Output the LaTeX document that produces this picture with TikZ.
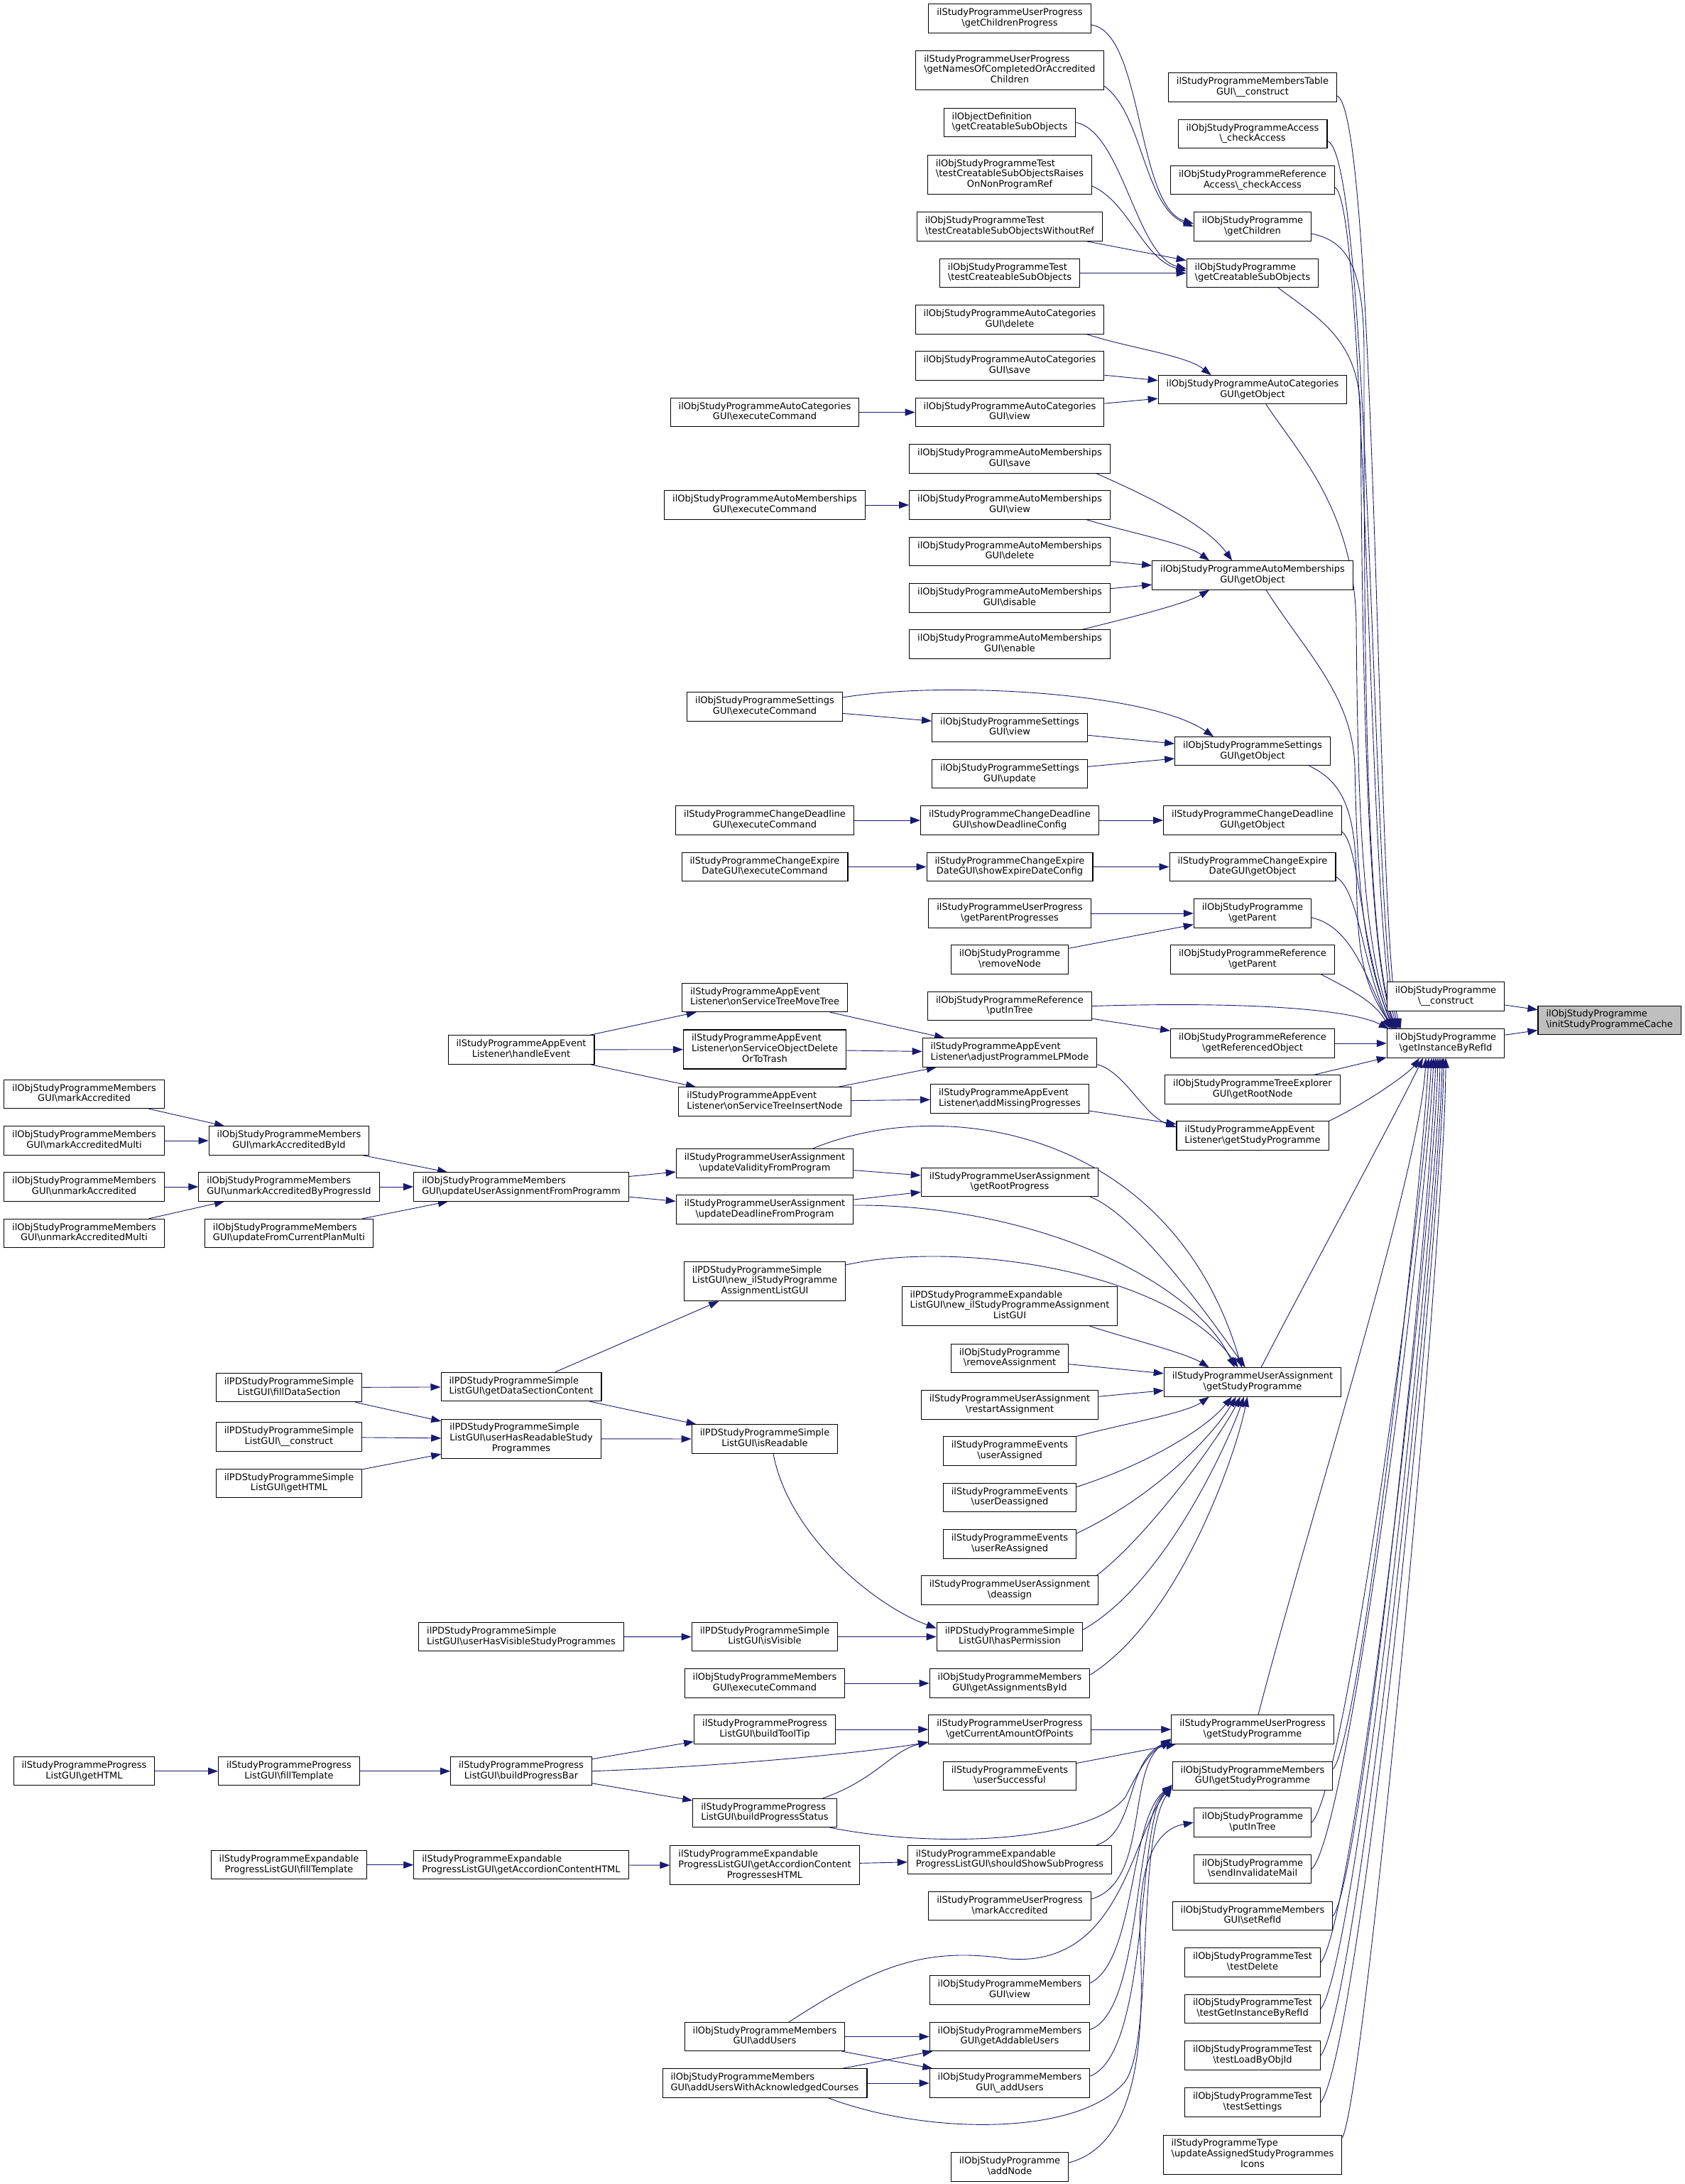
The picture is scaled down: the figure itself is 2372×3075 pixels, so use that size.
\documentclass[tikz,border=0pt]{standalone}
\usepackage{fontspec}
\setmainfont{DejaVu Sans}
\usetikzlibrary{arrows.meta,calc,backgrounds}
\definecolor{edgec}{HTML}{191970}
\definecolor{rootc}{HTML}{BFBFBF}
\newcommand{\bsx}{\textbackslash}
\newcommand{\twol}[2]{\begin{tabular}{@{}l@{}}#1\\\multicolumn{1}{@{}c@{}}{#2}\end{tabular}}
\newcommand{\threel}[3]{\begin{tabular}{@{}l@{}}#1\\#2\\\multicolumn{1}{@{}c@{}}{#3}\end{tabular}}
\tikzset{
  nd/.style={draw=black, line width=1.1pt, fill=white, inner xsep=11.5pt, inner ysep=5.3pt,
    font=\fontsize{13}{14.8}\selectfont, text=black},
  rootnd/.style={nd, fill=rootc},
  edg/.style={draw=edgec, line width=0.9pt, -{Triangle[length=14pt,width=10pt]}},
}
\begin{document}
\begin{tikzpicture}[x=1pt,y=-1pt]
\useasboundingbox (0,0) rectangle (2372,3075);
% root and level 1
\node[rootnd] (R) at (2266.7,1436.3) {\twol{ilObjStudyProgramme}{\bsx{}initStudyProgrammeCache}};
\node[nd] (D1) at (2036,1403) {\twol{ilObjStudyProgramme}{\bsx\_\_construct}};
\node[nd] (D2) at (2036,1469) {\twol{ilObjStudyProgramme}{\bsx{}getInstanceByRefId}};
% B column
\node[nd] (B1) at (1764,123) {\twol{ilStudyProgrammeMembersTable}{GUI\bsx\_\_construct}};
\node[nd] (B2) at (1764,188.5) {\twol{ilObjStudyProgrammeAccess}{\bsx\_checkAccess}};
\node[nd] (B3) at (1764,253.7) {\twol{ilObjStudyProgrammeReference}{Access\bsx\_checkAccess}};
\node[nd] (B4) at (1764,319) {\twol{ilObjStudyProgramme}{\bsx{}getChildren}};
\node[nd] (B5) at (1764,384.5) {\twol{ilObjStudyProgramme}{\bsx{}getCreatableSubObjects}};
\node[nd] (B6) at (1764,548.8) {\twol{ilObjStudyProgrammeAutoCategories}{GUI\bsx{}getObject}};
\node[nd] (B7) at (1764,810) {\twol{ilObjStudyProgrammeAutoMemberships}{GUI\bsx{}getObject}};
\node[nd] (B8) at (1764,1057.8) {\twol{ilObjStudyProgrammeSettings}{GUI\bsx{}getObject}};
\node[nd] (B9) at (1764,1155) {\twol{ilStudyProgrammeChangeDeadline}{GUI\bsx{}getObject}};
\node[nd] (B10) at (1764,1220.5) {\twol{ilStudyProgrammeChangeExpire}{DateGUI\bsx{}getObject}};
\node[nd] (B11) at (1764,1286) {\twol{ilObjStudyProgramme}{\bsx{}getParent}};
\node[nd] (B12) at (1764,1351) {\twol{ilObjStudyProgrammeReference}{\bsx{}getParent}};
\node[nd] (B13) at (1764,1469) {\twol{ilObjStudyProgrammeReference}{\bsx{}getReferencedObject}};
\node[nd] (B14) at (1764,1534) {\twol{ilObjStudyProgrammeTreeExplorer}{GUI\bsx{}getRootNode}};
\node[nd] (B15) at (1764,1599) {\twol{ilStudyProgrammeAppEvent}{Listener\bsx{}getStudyProgramme}};
\node[nd] (B16) at (1764,1946) {\twol{ilStudyProgrammeUserAssignment}{\bsx{}getStudyProgramme}};
\node[nd] (B17) at (1764,2435) {\twol{ilStudyProgrammeUserProgress}{\bsx{}getStudyProgramme}};
\node[nd] (B18) at (1764,2500.5) {\twol{ilObjStudyProgrammeMembers}{GUI\bsx{}getStudyProgramme}};
\node[nd] (B19) at (1764,2566) {\twol{ilObjStudyProgramme}{\bsx{}putInTree}};
\node[nd] (B20) at (1764,2631.6) {\twol{ilObjStudyProgramme}{\bsx{}sendInvalidateMail}};
\node[nd] (B21) at (1764,2697.6) {\twol{ilObjStudyProgrammeMembers}{GUI\bsx{}setRefId}};
\node[nd] (B22) at (1764,2763) {\twol{ilObjStudyProgrammeTest}{\bsx{}testDelete}};
\node[nd] (B23) at (1764,2828.4) {\twol{ilObjStudyProgrammeTest}{\bsx{}testGetInstanceByRefId}};
\node[nd] (B24) at (1764,2894) {\twol{ilObjStudyProgrammeTest}{\bsx{}testLoadByObjId}};
\node[nd] (B25) at (1764,2960) {\twol{ilObjStudyProgrammeTest}{\bsx{}testSettings}};
\node[nd] (B26) at (1764,3033.7) {\threel{ilStudyProgrammeType}{\bsx{}updateAssignedStudyProgrammes}{Icons}};
% A column
\node[nd] (A1) at (1422,26) {\twol{ilStudyProgrammeUserProgress}{\bsx{}getChildrenProgress}};
\node[nd] (A2) at (1422,99) {\threel{ilStudyProgrammeUserProgress}{\bsx{}getNamesOfCompletedOrAccredited}{Children}};
\node[nd] (A3) at (1422,172.5) {\twol{ilObjectDefinition}{\bsx{}getCreatableSubObjects}};
\node[nd] (A4) at (1422,246) {\threel{ilObjStudyProgrammeTest}{\bsx{}testCreatableSubObjectsRaises}{OnNonProgramRef}};
\node[nd] (A5) at (1422,319) {\twol{ilObjStudyProgrammeTest}{\bsx{}testCreatableSubObjectsWithoutRef}};
\node[nd] (A6) at (1422,384.5) {\twol{ilObjStudyProgrammeTest}{\bsx{}testCreateableSubObjects}};
\node[nd] (A7) at (1422,450) {\twol{ilObjStudyProgrammeAutoCategories}{GUI\bsx{}delete}};
\node[nd] (A8) at (1422,515) {\twol{ilObjStudyProgrammeAutoCategories}{GUI\bsx{}save}};
\node[nd] (A9) at (1422,580.5) {\twol{ilObjStudyProgrammeAutoCategories}{GUI\bsx{}view}};
\node[nd] (A10) at (1422,646) {\twol{ilObjStudyProgrammeAutoMemberships}{GUI\bsx{}save}};
\node[nd] (A11) at (1422,711) {\twol{ilObjStudyProgrammeAutoMemberships}{GUI\bsx{}view}};
\node[nd] (A12) at (1422,776.5) {\twol{ilObjStudyProgrammeAutoMemberships}{GUI\bsx{}delete}};
\node[nd] (A13) at (1422,842) {\twol{ilObjStudyProgrammeAutoMemberships}{GUI\bsx{}disable}};
\node[nd] (A14) at (1422,907) {\twol{ilObjStudyProgrammeAutoMemberships}{GUI\bsx{}enable}};
\node[nd] (A15) at (1422,1024.5) {\twol{ilObjStudyProgrammeSettings}{GUI\bsx{}view}};
\node[nd] (A16) at (1422,1089.7) {\twol{ilObjStudyProgrammeSettings}{GUI\bsx{}update}};
\node[nd] (A17) at (1422,1155) {\twol{ilStudyProgrammeChangeDeadline}{GUI\bsx{}showDeadlineConfig}};
\node[nd] (A18) at (1422,1220.5) {\twol{ilStudyProgrammeChangeExpire}{DateGUI\bsx{}showExpireDateConfig}};
\node[nd] (A19) at (1422,1286) {\twol{ilStudyProgrammeUserProgress}{\bsx{}getParentProgresses}};
\node[nd] (A20) at (1422,1351) {\twol{ilObjStudyProgramme}{\bsx{}removeNode}};
\node[nd] (A21) at (1422,1416.5) {\twol{ilObjStudyProgrammeReference}{\bsx{}putInTree}};
\node[nd] (A22) at (1422,1482) {\twol{ilStudyProgrammeAppEvent}{Listener\bsx{}adjustProgrammeLPMode}};
\node[nd] (A23) at (1422,1547) {\twol{ilStudyProgrammeAppEvent}{Listener\bsx{}addMissingProgresses}};
\node[nd] (A24) at (1422,1664.5) {\twol{ilStudyProgrammeUserAssignment}{\bsx{}getRootProgress}};
\node[nd] (A25) at (1422,1839) {\threel{ilPDStudyProgrammeExpandable}{ListGUI\bsx{}new\_ilStudyProgrammeAssignment}{ListGUI}};
\node[nd] (A26) at (1422,1912.5) {\twol{ilObjStudyProgramme}{\bsx{}removeAssignment}};
\node[nd] (A27) at (1422,1978) {\twol{ilStudyProgrammeUserAssignment}{\bsx{}restartAssignment}};
\node[nd] (A28) at (1422,2043) {\twol{ilStudyProgrammeEvents}{\bsx{}userAssigned}};
\node[nd] (A29) at (1422,2108.5) {\twol{ilStudyProgrammeEvents}{\bsx{}userDeassigned}};
\node[nd] (A30) at (1422,2174) {\twol{ilStudyProgrammeEvents}{\bsx{}userReAssigned}};
\node[nd] (A31) at (1422,2239) {\twol{ilStudyProgrammeUserAssignment}{\bsx{}deassign}};
\node[nd] (A32) at (1422,2304.5) {\twol{ilPDStudyProgrammeSimple}{ListGUI\bsx{}hasPermission}};
\node[nd] (A33) at (1422,2370) {\twol{ilObjStudyProgrammeMembers}{GUI\bsx{}getAssignmentsById}};
\node[nd] (A34) at (1422,2435) {\twol{ilStudyProgrammeUserProgress}{\bsx{}getCurrentAmountOfPoints}};
\node[nd] (A35) at (1422,2500.5) {\twol{ilStudyProgrammeEvents}{\bsx{}userSuccessful}};
\node[nd] (A36) at (1422,2618.5) {\twol{ilStudyProgrammeExpandable}{ProgressListGUI\bsx{}shouldShowSubProgress}};
\node[nd] (A37) at (1422,2683.8) {\twol{ilStudyProgrammeUserProgress}{\bsx{}markAccredited}};
\node[nd] (A38) at (1422,2802) {\twol{ilObjStudyProgrammeMembers}{GUI\bsx{}view}};
\node[nd] (A39) at (1422,2867.5) {\twol{ilObjStudyProgrammeMembers}{GUI\bsx{}getAddableUsers}};
\node[nd] (A40) at (1422,2933) {\twol{ilObjStudyProgrammeMembers}{GUI\bsx\_addUsers}};
\node[nd] (A41) at (1422,3051) {\twol{ilObjStudyProgramme}{\bsx{}addNode}};
% C column
\node[nd] (C1) at (1077,580.5) {\twol{ilObjStudyProgrammeAutoCategories}{GUI\bsx{}executeCommand}};
\node[nd] (C2) at (1077,711) {\twol{ilObjStudyProgrammeAutoMemberships}{GUI\bsx{}executeCommand}};
\node[nd] (C3) at (1077,995) {\twol{ilObjStudyProgrammeSettings}{GUI\bsx{}executeCommand}};
\node[nd] (C4) at (1077,1155) {\twol{ilStudyProgrammeChangeDeadline}{GUI\bsx{}executeCommand}};
\node[nd] (C5) at (1077,1220.5) {\twol{ilStudyProgrammeChangeExpire}{DateGUI\bsx{}executeCommand}};
\node[nd] (C6) at (1077,1404.5) {\twol{ilStudyProgrammeAppEvent}{Listener\bsx{}onServiceTreeMoveTree}};
\node[nd] (C7) at (1077,1477.5) {\threel{ilStudyProgrammeAppEvent}{Listener\bsx{}onServiceObjectDelete}{OrToTrash}};
\node[nd] (C8) at (1077,1551) {\twol{ilStudyProgrammeAppEvent}{Listener\bsx{}onServiceTreeInsertNode}};
\node[nd] (C9) at (1077,1638) {\twol{ilStudyProgrammeUserAssignment}{\bsx{}updateValidityFromProgram}};
\node[nd] (C10) at (1077,1703) {\twol{ilStudyProgrammeUserAssignment}{\bsx{}updateDeadlineFromProgram}};
\node[nd] (C11) at (1077,1804) {\threel{ilPDStudyProgrammeSimple}{ListGUI\bsx{}new\_ilStudyProgramme}{AssignmentListGUI}};
\node[nd] (C12) at (1077,2026) {\twol{ilPDStudyProgrammeSimple}{ListGUI\bsx{}isReadable}};
\node[nd] (C13) at (1077,2304.5) {\twol{ilPDStudyProgrammeSimple}{ListGUI\bsx{}isVisible}};
\node[nd] (C14) at (1077,2370) {\twol{ilObjStudyProgrammeMembers}{GUI\bsx{}executeCommand}};
\node[nd] (C15) at (1077,2435) {\twol{ilStudyProgrammeProgress}{ListGUI\bsx{}buildToolTip}};
\node[nd] (C16) at (1077,2552.5) {\twol{ilStudyProgrammeProgress}{ListGUI\bsx{}buildProgressStatus}};
\node[nd] (C17) at (1077,2626.4) {\threel{ilStudyProgrammeExpandable}{ProgressListGUI\bsx{}getAccordionContent}{ProgressesHTML}};
\node[nd] (C18) at (1077,2867.5) {\twol{ilObjStudyProgrammeMembers}{GUI\bsx{}addUsers}};
\node[nd] (C19) at (1077,2933) {\twol{ilObjStudyProgrammeMembers}{GUI\bsx{}addUsersWithAcknowledgedCourses}};
% E column
\node[nd] (E1) at (734,1478) {\twol{ilStudyProgrammeAppEvent}{Listener\bsx{}handleEvent}};
\node[nd] (E2) at (734,1671) {\twol{ilObjStudyProgrammeMembers}{GUI\bsx{}updateUserAssignmentFromProgramm}};
\node[nd] (E3) at (734,1952.5) {\twol{ilPDStudyProgrammeSimple}{ListGUI\bsx{}getDataSectionContent}};
\node[nd] (E4) at (734,2025.8) {\threel{ilPDStudyProgrammeSimple}{ListGUI\bsx{}userHasReadableStudy}{Programmes}};
\node[nd] (E5) at (734,2304.7) {\twol{ilPDStudyProgrammeSimple}{ListGUI\bsx{}userHasVisibleStudyProgrammes}};
\node[nd] (E6) at (734,2493.7) {\twol{ilStudyProgrammeProgress}{ListGUI\bsx{}buildProgressBar}};
\node[nd] (E7) at (734,2625.7) {\twol{ilStudyProgrammeExpandable}{ProgressListGUI\bsx{}getAccordionContentHTML}};
% F column
\node[nd] (F1) at (407,1606) {\twol{ilObjStudyProgrammeMembers}{GUI\bsx{}markAccreditedById}};
\node[nd] (F2) at (407,1671) {\twol{ilObjStudyProgrammeMembers}{GUI\bsx{}unmarkAccreditedByProgressId}};
\node[nd] (F3) at (407,1736.5) {\twol{ilObjStudyProgrammeMembers}{GUI\bsx{}updateFromCurrentPlanMulti}};
\node[nd] (F4) at (407,1953.7) {\twol{ilPDStudyProgrammeSimple}{ListGUI\bsx{}fillDataSection}};
\node[nd] (F5) at (407,2023) {\twol{ilPDStudyProgrammeSimple}{ListGUI\bsx\_\_construct}};
\node[nd] (F6) at (407,2088.5) {\twol{ilPDStudyProgrammeSimple}{ListGUI\bsx{}getHTML}};
\node[nd] (G5) at (407,2493.7) {\twol{ilStudyProgrammeProgress}{ListGUI\bsx{}fillTemplate}};
\node[nd] (G6) at (407,2625.7) {\twol{ilStudyProgrammeExpandable}{ProgressListGUI\bsx{}fillTemplate}};
% G column
\node[nd] (G1) at (118.5,1540.5) {\twol{ilObjStudyProgrammeMembers}{GUI\bsx{}markAccredited}};
\node[nd] (G2) at (118.5,1606) {\twol{ilObjStudyProgrammeMembers}{GUI\bsx{}markAccreditedMulti}};
\node[nd] (G3) at (118.5,1671) {\twol{ilObjStudyProgrammeMembers}{GUI\bsx{}unmarkAccredited}};
\node[nd] (G4) at (118.5,1736.5) {\twol{ilObjStudyProgrammeMembers}{GUI\bsx{}unmarkAccreditedMulti}};
\node[nd] (H1) at (118.5,2493.7) {\twol{ilStudyProgrammeProgress}{ListGUI\bsx{}getHTML}};

\begin{pgfonlayer}{background}
\fill[white] (0,0) rectangle (2372,3075);
% straight edges
\foreach \a/\b in {D1/R,D2/R,B13/D2,B14/D2,A5/B5,A6/B5,A8/B6,A9/B6,C1/A9,A12/B7,A13/B7,C2/A11,
  C3/A15,A15/B8,A16/B8,C4/A17,A17/B9,C5/A18,A18/B10,A19/B11,A20/B11,A21/B13,C6/A22,C7/A22,C8/A22,
  C8/A23,A23/B15,E1/C6,E1/C7,E1/C8,C9/A24,C10/A24,E2/C9,E2/C10,E3/C11,A26/B16,A27/B16,E3/C12,
  E4/C12,F4/E3,F4/E4,F5/E4,F6/E4,E5/C13,C13/A32,C14/A33,C15/A34,A34/B17,A35/B17,E6/C15,E6/C16,
  H1/G5,G5/E6,G6/E7,E7/C17,C17/A36,C18/A39,C18/A40,C19/A39,C19/A40,G1/F1,G2/F1,G3/F2,G4/F2,
  F1/E2,F2/E2,F3/E2}
  {\draw[edg] (\a) -- (\b);}
% upper callers of getInstanceByRefId
\draw[edg] ($(B1.east)+(0,12)$) .. controls (1940,160) and (1938,1330) .. ($(D2.north west)+(20,0)$);
\draw[edg] ($(B2.east)+(0,10)$) .. controls (1932,220) and (1932,1330) .. ($(D2.north west)+(18,0)$);
\draw[edg] ($(B3.east)+(0,10)$) .. controls (1926,290) and (1927,1330) .. ($(D2.north west)+(16,0)$);
\draw[edg] ($(B4.east)+(0,10)$) .. controls (1900,340) and (1921,380) .. (1921,500) .. controls (1921,900) and (1922,1330) .. ($(D2.north west)+(14,0)$);
\draw[edg] ($(B5.south)+(36,0)$) .. controls (1860,450) and (1914,480) .. (1916,580) .. controls (1918,800) and (1920,1330) .. ($(D2.north west)+(13,0)$);
\draw[edg] ($(B6.south)+(19,0)$) .. controls (1830,640) and (1908,720) .. (1910,880) .. controls (1912,1100) and (1916,1330) .. ($(D2.north west)+(12,0)$);
\draw[edg] ($(B7.south)+(19,0)$) .. controls (1840,920) and (1905,980) .. (1908,1080) .. controls (1911,1200) and (1914,1340) .. ($(D2.north west)+(11,0)$);
\draw[edg] ($(B8.south east)+(-30,0)$) .. controls (1890,1100) and (1908,1140) .. (1910,1230) .. controls (1912,1330) and (1915,1380) .. ($(D2.north west)+(10,0)$);
\draw[edg] ($(B9.east)+(0,16)$) .. controls (1915,1190) and (1915,1330) .. ($(D2.north west)+(9,0)$);
\draw[edg] ($(B10.east)+(0,14)$) .. controls (1915,1255) and (1918,1360) .. ($(D2.north west)+(8,0)$);
\draw[edg] ($(B11.east)+(0,6)$) .. controls (1905,1305) and (1925,1380) .. ($(D2.north west)+(7,0)$);
\draw[edg] ($(B12.south east)+(-20,0)$) .. controls (1905,1395) and (1935,1410) .. ($(D2.north west)+(5,0)$);
\draw[edg] (A21.east) .. controls (1750,1410) and (1900,1420) .. ($(D2.north west)+(3,0)$);
% lower callers of getInstanceByRefId
\draw[edg] (B15.north east) .. controls (1930,1550) and (1985,1510) .. ($(D2.south)+(-37,0)$);
\draw[edg] ($(B16.north)+(12,0)$) .. controls (1830,1820) and (1960,1580) .. ($(D2.south)+(-32,0)$);
\draw[edg] ($(B17.north)+(8,0)$) .. controls (1840,2150) and (2000,1650) .. ($(D2.south)+(-28,0)$);
\draw[edg] ($(B18.east)+(0,-10)$) .. controls (1915,2450) and (2000,1700) .. ($(D2.south)+(-24,0)$);
\draw[edg] (B19.east) .. controls (1895,2520) and (2005,1700) .. ($(D2.south)+(-20,0)$);
\draw[edg] (B20.east) .. controls (1900,2580) and (2010,1700) .. ($(D2.south)+(-17,0)$);
\draw[edg] (B21.east) .. controls (1920,2640) and (2015,1700) .. ($(D2.south)+(-14,0)$);
\draw[edg] (B22.east) .. controls (1910,2700) and (2020,1700) .. ($(D2.south)+(-11,0)$);
\draw[edg] (B23.east) .. controls (1912,2760) and (2025,1700) .. ($(D2.south)+(-8,0)$);
\draw[edg] (B24.east) .. controls (1915,2820) and (2028,1700) .. ($(D2.south)+(-5,0)$);
\draw[edg] (B25.east) .. controls (1918,2880) and (2032,1700) .. ($(D2.south)+(-3,0)$);
\draw[edg] ($(B26.north east)+(0,4)$) .. controls (1922,2950) and (2035,1750) .. (D2.south);
% top group
\draw[edg] ($(A1.east)+(0,9)$) .. controls (1610,45) and (1600,290) .. ($(B4.west)+(0,-4)$);
\draw[edg] ($(A2.east)+(0,22)$) .. controls (1610,160) and (1610,290) .. (B4.west);
\draw[edg] (A3.east) .. controls (1580,185) and (1600,360) .. ($(B5.west)+(0,-6)$);
\draw[edg] ($(A4.east)+(0,16)$) .. controls (1590,285) and (1610,365) .. ($(B5.west)+(0,-3)$);
\draw[edg] ($(A7.south east)+(-25,0)$) .. controls (1590,490) and (1670,500) .. ($(B6.north west)+(75,0)$);
\draw[edg] ($(A10.south east)+(-20,0)$) .. controls (1620,700) and (1700,740) .. ($(B7.north west)+(113,0)$);
\draw[edg] ($(A11.south east)+(-34,0)$) .. controls (1590,750) and (1670,765) .. ($(B7.north west)+(81,0)$);
\draw[edg] ($(A14.north east)+(-40,0)$) .. controls (1590,870) and (1670,850) .. ($(B7.south west)+(81,0)$);
\draw[edg] ($(C3.east)+(0,-13)$) .. controls (1330,958) and (1620,975) .. ($(B8.north west)+(55,0)$);
\draw[edg] ($(A22.south east)+(0,-4)$) .. controls (1585,1510) and (1610,1570) .. ($(B15.west)+(0,-12)$);
% UserAssignment getStudyProgramme group
\draw[edg] ($(C9.north)+(67,0)$) .. controls (1330,1540) and (1650,1590) .. ($(B16.north west)+(110,0)$);
\draw[edg] ($(C10.east)+(0,-6)$) .. controls (1450,1695) and (1680,1800) .. ($(B16.north west)+(100,0)$);
\draw[edg] ($(A24.south east)+(-12,0)$) .. controls (1600,1710) and (1700,1850) .. ($(B16.north west)+(115,0)$);
\draw[edg] ($(C11.north east)+(0,5)$) .. controls (1350,1745) and (1650,1790) .. ($(B16.north west)+(105,0)$);
\draw[edg] ($(A25.south east)+(-40,0)$) .. controls (1590,1885) and (1670,1905) .. ($(B16.north west)+(64,0)$);
\draw[edg] (A28.north east) .. controls (1580,2005) and (1670,1990) .. ($(B16.south west)+(64,0)$);
\draw[edg] ($(A29.east)+(0,-15)$) .. controls (1620,2060) and (1700,2010) .. ($(B16.south west)+(96,0)$);
\draw[edg] ($(A30.east)+(0,-15)$) .. controls (1640,2100) and (1715,2010) .. ($(B16.south west)+(102,0)$);
\draw[edg] ($(A31.north east)+(-3,0)$) .. controls (1620,2160) and (1720,2020) .. ($(B16.south west)+(108,0)$);
\draw[edg] ($(A32.east)+(0,-10)$) .. controls (1640,2230) and (1730,2030) .. ($(B16.south west)+(113,0)$);
\draw[edg] ($(A33.east)+(0,-12)$) .. controls (1660,2280) and (1740,2050) .. ($(B16.south west)+(118,0)$);
\draw[edg] ($(C12.south)+(12,0)$) .. controls (1110,2160) and (1230,2260) .. ($(A32.west)+(0,-12)$);
% progress group
\draw[edg] (E6.east) .. controls (1000,2488) and (1200,2470) .. (A34);
\draw[edg] ($(C16.north east)+(-20,0)$) .. controls (1235,2505) and (1255,2465) .. ($(A34.south west)+(0,-3)$);
\draw[edg] ($(C16.south east)+(-10,0)$) .. controls (1330,2605) and (1540,2590) .. (1585,2530) .. controls (1605,2490) and (1620,2465) .. ($(B17.south west)+(0,-3)$);
\draw[edg] ($(A36.north east)+(-22,0)$) .. controls (1600,2580) and (1585,2480) .. ($(B17.west)+(0,15)$);
\draw[edg] ($(A37.east)+(0,-10)$) .. controls (1620,2650) and (1585,2490) .. ($(B17.west)+(0,13)$);
% members group
\draw[edg] ($(A38.east)+(0,-10)$) .. controls (1600,2760) and (1590,2560) .. ($(B18.west)+(0,13)$);
\draw[edg] ($(A39.east)+(0,-10)$) .. controls (1610,2830) and (1595,2560) .. ($(B18.west)+(0,14)$);
\draw[edg] ($(A40.east)+(0,-10)$) .. controls (1620,2890) and (1600,2560) .. ($(B18.west)+(0,15)$);
\draw[edg] ($(C18.north)+(34,0)$) .. controls (1230,2770) and (1300,2740) .. (1420,2758) .. controls (1580,2770) and (1590,2590) .. ($(B18.west)+(0,12)$);
\draw[edg] ($(C19.south)+(89,0)$) .. controls (1300,3005) and (1520,3010) .. (1585,2930) .. controls (1625,2870) and (1600,2590) .. ($(B18.west)+(0,16)$);
\draw[edg] ($(A41.east)+(0,-6)$) .. controls (1600,3020) and (1612,2880) .. (1606,2740) .. controls (1600,2620) and (1630,2575) .. (B19.west);
\end{pgfonlayer}
\end{tikzpicture}
\end{document}
